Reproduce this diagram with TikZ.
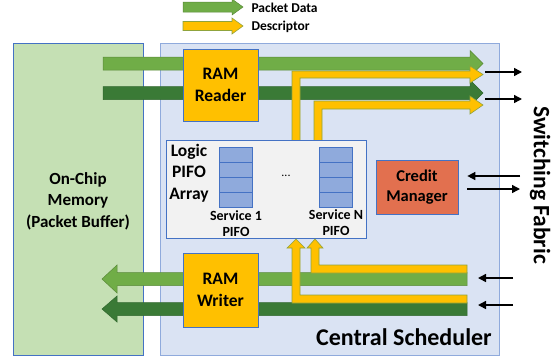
\documentclass[tikz,border=0pt]{standalone}
\usepackage{fontspec}
\setmainfont{Carlito}
\usetikzlibrary{arrows.meta}

\definecolor{memgreen}{HTML}{C5E0B4}
\definecolor{schedblue}{HTML}{DAE3F3}
\definecolor{edgeblue}{HTML}{4472C4}
\definecolor{softblue}{HTML}{8FAADC}
\definecolor{lightgr}{HTML}{70AD47}
\definecolor{darkgr}{HTML}{3A7A36}
\definecolor{descyel}{HTML}{FFC000}
\definecolor{olive}{HTML}{8FA33C}
\definecolor{creditred}{HTML}{E2704F}
\definecolor{arraygray}{HTML}{F2F2F2}

% fat horizontal arrow: style, x start, x tip, y, half band, half head, head length
\newcommand{\hband}[7]{%
  \draw[#1] (#2,{#4-#5}) -- ({#3-#7},{#4-#5}) -- ({#3-#7},{#4-#6}) -- (#3,#4)
    -- ({#3-#7},{#4+#6}) -- ({#3-#7},{#4+#5}) -- (#2,{#4+#5}) -- cycle;}

\begin{document}
\begin{tikzpicture}[x=1pt,y=-1pt,
    every node/.style={font=\bfseries},
    membox/.style={draw=edgeblue,fill=memgreen,line width=0.7pt,inner sep=0pt},
    schedbox/.style={draw=softblue,fill=schedblue,line width=0.9pt,inner sep=0pt},
    ramblock/.style={draw=edgeblue,fill=descyel,line width=0.7pt,inner sep=0pt,
      minimum width=75pt,align=center,font=\fontsize{17.5}{22}\bfseries},
    pifobox/.style={draw=edgeblue,fill=arraygray,line width=0.7pt,inner sep=0pt},
    cellbox/.style={draw=edgeblue,fill=softblue,line width=0.6pt,inner sep=0pt,
      minimum width=33pt,minimum height=15pt},
    creditbox/.style={draw=edgeblue,fill=creditred,line width=0.7pt,inner sep=0pt,
      minimum width=82pt,minimum height=54pt,align=center,font=\fontsize{16.5}{20}\bfseries},
    lgreen/.style={fill=lightgr,draw=lightgr!80!black,line width=0.5pt},
    dgreen/.style={fill=darkgr,draw=darkgr!85!black,line width=0.5pt},
    yel/.style={fill=descyel,draw=olive,line width=0.6pt},
    sig/.style={line width=1.5pt,-{Triangle[length=8pt,width=8pt]}}]

\useasboundingbox (0,0) rectangle (554,360);

% legend
\hband{lgreen}{183}{243}{7}{5}{8}{11}
\hband{yel}{183}{243}{26}{4.5}{8}{11}
\node[anchor=west,font=\fontsize{13.5}{16}\bfseries] (legdata) at (248,8) {Packet Data};
\node[anchor=west,font=\fontsize{13.5}{16}\bfseries] (legdesc) at (248,27) {Descriptor};

% memory and scheduler
\node[membox,minimum width=130pt,minimum height=312pt] (mem) at (78,199) {};
\node[align=center,font=\fontsize{17}{21.5}\bfseries] (memtxt) at (78,201) {On-Chip\\Memory\\(Packet Buffer)};
\node[schedbox,minimum width=339pt,minimum height=312pt] (sched) at (329.5,199) {};

% read side
\hband{lgreen}{103}{483}{63.5}{6.5}{13}{13}
\hband{dgreen}{103}{483}{93}{6.5}{13}{13}
\draw[yel] (292,141) -- (292,71) -- (470,71) -- (470,66) -- (483,74.5) -- (470,83)
  -- (470,78) -- (300,78) -- (300,141) -- cycle;
\draw[yel] (314,141) -- (314,101) -- (470,101) -- (470,96) -- (483,105) -- (470,114)
  -- (470,109) -- (322,109) -- (322,141) -- cycle;
\node[ramblock,minimum height=72pt] (reader) at (220.5,85) {RAM\\Reader};

% pifo array
\node[pifobox,minimum width=200pt,minimum height=98pt] (array) at (266,189) {};
\node[align=center,font=\fontsize{17.5}{21.5}\bfseries] (arraytxt) at (189,173) {Logic\\PIFO\\Array};
\foreach \i in {0,...,3}{
  \node[cellbox] (pa\i) at (235.5,{154.5+15*\i}) {};
  \node[cellbox] (pn\i) at (335.5,{154.5+15*\i}) {};
}
\node[align=center,font=\fontsize{14}{16}\bfseries] (pfirst) at (236,224) {Service 1\\PIFO};
\node[align=center,font=\fontsize{14}{16}\bfseries] (plast) at (336,223) {Service N\\PIFO};
\node[font=\fontsize{12}{14}\selectfont] (dots) at (286,176) {...};

% write side
\hband{lgreen}{467}{102}{279}{6.5}{14}{-15}
\hband{dgreen}{467}{102}{309}{6.5}{13}{-15}
\draw[yel] (467,273) -- (311,273) -- (311,248) -- (307,248) -- (315,239) -- (323,248)
  -- (319,248) -- (319,265) -- (467,265) -- cycle;
\draw[yel] (467,303) -- (292,303) -- (292,248) -- (287,248) -- (296,239) -- (305,248)
  -- (300,248) -- (300,295) -- (467,295) -- cycle;
\node[ramblock,minimum height=74pt] (writer) at (220.5,290) {RAM\\Writer};

% credit manager
\node[creditbox] (credit) at (417,187) {Credit\\Manager};

% fabric side
\coordinate (outA) at (485,72);
\coordinate (outB) at (485,99);
\coordinate (fabA) at (522,72);
\coordinate (fabB) at (522,99);
\coordinate (crIn) at (520,176);
\coordinate (crOut) at (520,189);
\coordinate (inA) at (513,278);
\coordinate (inB) at (513,305);
\draw[sig] (outA) -- (fabA);
\draw[sig] (outB) -- (fabB);
\draw[sig,shorten >=9pt] (crIn) -- (credit.east |- crIn);
\draw[sig,shorten <=9pt] (credit.east |- crOut) -- (crOut);
\draw[sig] (inA) -- ++(-35,0);
\draw[sig] (inB) -- ++(-35,0);

\node[rotate=-90,font=\fontsize{23.5}{28}\bfseries] (fabric) at (540,185) {Switching Fabric};
\node[font=\fontsize{24}{28}\bfseries] (schedtxt) at (404,337) {Central Scheduler};
\end{tikzpicture}
\end{document}
